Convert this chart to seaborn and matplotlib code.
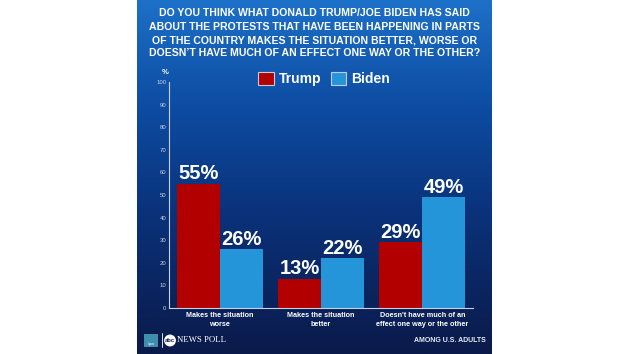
import numpy as np
import pandas as pd
import matplotlib
matplotlib.use("Agg")
import matplotlib.pyplot as plt
from matplotlib.colors import LinearSegmentedColormap
from matplotlib.patches import Patch, Rectangle
import seaborn as sns

# ---- data ----
categories = ["Makes the situation\nworse", "Makes the situation\nbetter",
              "Doesn't have much of an\neffect one way or the other"]
trump = [55, 13, 29]
biden = [26, 22, 49]
series_names = ["Trump", "Biden"]
yticks = [0, 10, 20, 30, 40, 50, 60, 70, 80, 90, 100]
title_lines = ["DO YOU THINK WHAT DONALD TRUMP/JOE BIDEN HAS SAID",
               "ABOUT THE PROTESTS THAT HAVE BEEN HAPPENING IN PARTS",
               "OF THE COUNTRY MAKES THE SITUATION BETTER, WORSE OR",
               "DOESN\u2019T HAVE MUCH OF AN EFFECT ONE WAY OR THE OTHER?"]

df = pd.DataFrame({
    "category": categories * 2,
    "value": trump + biden,
    "who": [series_names[0]] * 3 + [series_names[1]] * 3,
})

RED = "#B20000"
BLUE = "#2595DA"
W, H = 630, 354

sns.set_theme(style="white")
plt.rcParams["font.family"] = ["Liberation Sans", "DejaVu Sans"]

fig = plt.figure(figsize=(W / 100, H / 100), dpi=100)
fig.patch.set_facecolor("white")

def fx(px):
    return px / W

def fy(py):
    return 1 - py / H

# gradient panel
bg = fig.add_axes([fx(137), 0, fx(492) - fx(137), 1])
cmap = LinearSegmentedColormap.from_list(
    "bg", [(0, "#1D70C8"), (0.3, "#0D4CA2"), (0.6, "#0A327A"), (1, "#0A1A4A")])
grad = np.linspace(0, 1, 256).reshape(-1, 1)
bg.imshow(grad, aspect="auto", cmap=cmap, extent=[0, 1, 1, 0])
bg.set_axis_off()

# main axes
ax = fig.add_axes([fx(169), fy(308), fx(473) - fx(169), fy(82) - fy(308)])
ax.set_facecolor("none")
sns.barplot(data=df, x="category", y="value", hue="who",
            palette=[RED, BLUE], width=0.85, saturation=1, ax=ax,
            legend=False, linewidth=0)
ax.set_ylim(0, 100)
ax.set_xlim(-0.5, 2.5)
ax.set_yticks(yticks)
ax.set_yticklabels([str(t) for t in yticks], fontsize=4.3, color="#C8D0E4")
ax.tick_params(axis="y", length=0, pad=2)
ax.set_xticks([0, 1, 2])
ax.set_xticklabels(categories, fontsize=5.2, color="white", fontweight="bold",
                   linespacing=1.35)
ax.tick_params(axis="x", length=0, pad=3)
ax.set_xlabel("")
ax.set_ylabel("")
for s in ["top", "right"]:
    ax.spines[s].set_visible(False)
for s in ["left", "bottom"]:
    ax.spines[s].set_color("#C8D0E4")
    ax.spines[s].set_linewidth(0.8)

for cont in ax.containers:
    ax.bar_label(cont, labels=[f"{int(v)}%" for v in cont.datavalues],
                 color="white", fontsize=14.5, fontweight="bold", padding=0.5)

# % label
fig.text(fx(165), fy(72), "%", color="white", fontsize=5.5, fontweight="bold",
         ha="center", va="center")

# legend
handles = [Patch(facecolor=RED, edgecolor="#C8C8DC", linewidth=0.8),
           Patch(facecolor=BLUE, edgecolor="#C8C8DC", linewidth=0.8)]
leg = fig.legend(handles, series_names, loc="center",
                 bbox_to_anchor=(fx(324), fy(79)), ncol=2, frameon=False,
                 handlelength=1.1, handleheight=1.1, handletextpad=0.35,
                 columnspacing=0.7, prop={"weight": "bold", "size": 10})
for t in leg.get_texts():
    t.set_color("white")

# title
for i, line in enumerate(title_lines):
    fig.text(fx(314.5), fy(13.5 + i * 13.3), line, color="white",
             fontsize=7.6, fontweight="bold", ha="center", va="center")

# footer
fig.text(fx(486), fy(341), "AMONG U.S. ADULTS", color="#E8ECF4", fontsize=5.0,
         fontweight="bold", ha="right", va="center")

fig.patches.append(Rectangle((fx(144), fy(347)), fx(14), fy(334) - fy(347),
                             transform=fig.transFigure, facecolor="#3D8FB0",
                             edgecolor="none"))
fig.text(fx(151), fy(344), "Ipsos", color="white", fontsize=2.2,
         ha="center", va="center")
fig.lines.append(plt.Line2D([fx(161.5), fx(161.5)], [fy(347), fy(333)],
                            transform=fig.transFigure, color="white", lw=0.6))
fig.text(fx(170), fy(340.5), "abc", color="#0A1A4A", fontsize=4.2,
         fontweight="bold", ha="center", va="center",
         bbox=dict(boxstyle="circle,pad=0.15", facecolor="white",
                   edgecolor="none"))
fig.text(fx(177), fy(340.5), "NEWS POLL", color="white", fontsize=6.3,
         family=["Liberation Serif", "DejaVu Serif"], ha="left", va="center")

fig.savefig("out.png", dpi=100, facecolor="white")
